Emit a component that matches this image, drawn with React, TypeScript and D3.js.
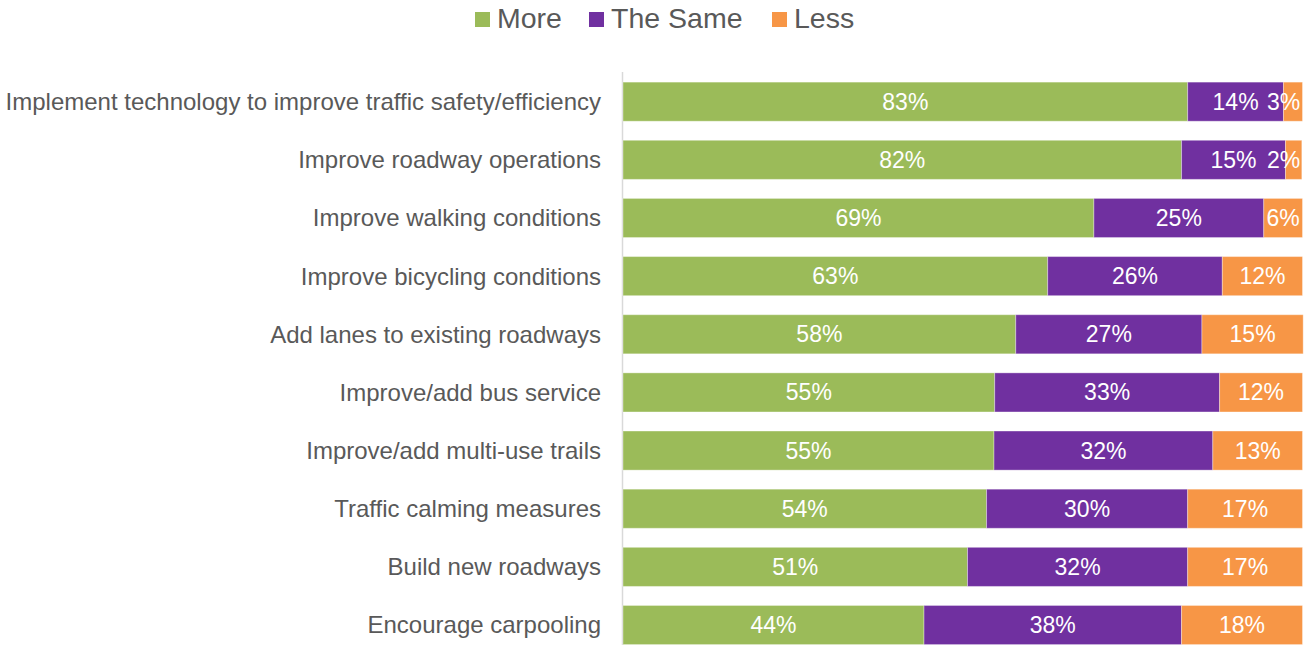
import React from "react";
import * as d3 from "d3";

const categories = [
  "Implement technology to improve traffic safety/efficiency",
  "Improve roadway operations",
  "Improve walking conditions",
  "Improve bicycling conditions",
  "Add lanes to existing roadways",
  "Improve/add bus service",
  "Improve/add multi-use trails",
  "Traffic calming measures",
  "Build new roadways",
  "Encourage carpooling",
];
const more = [83.1, 82.2, 69.3, 62.5, 57.8, 54.7, 54.6, 53.5, 50.7, 44.3];
const same = [14.1, 15.3, 25.0, 25.7, 27.4, 33.1, 32.2, 29.6, 32.4, 37.9];
const less = [2.8, 2.4, 5.7, 11.8, 14.9, 12.2, 13.2, 16.9, 16.9, 17.8];
const seriesNames = ["More", "The Same", "Less"];
const colors = ["#9BBB59", "#7030A0", "#F79646"];

const W = 1312;
const H = 645;
const FONT = "'Liberation Sans', Arial, sans-serif";

export default function App() {
  const x = d3.scaleLinear().domain([0, 100]).range([623, 1302.5]);
  const step = 58.15;
  const y = d3
    .scaleBand<string>()
    .domain(categories)
    .range([72.6, 72.6 + step * categories.length])
    .paddingInner(19 / 58)
    .paddingOuter(19 / 116);

  const rows = categories.map((c, i) => ({ cat: c, vals: [more[i], same[i], less[i]] }));
  const legendX = [475, 589, 772];
  const labelMax = x(100) - 19;

  return (
    <svg
      width={W}
      height={H}
      style={{ position: "absolute", left: 0, top: 0, display: "block" }}
      fontFamily={FONT}
    >
      <rect width={W} height={H} fill="#fff" />
      {seriesNames.map((s, i) => (
        <g key={s}>
          <rect x={legendX[i]} y={12} width={15} height={15} fill={colors[i]} />
          <text x={legendX[i] + 22} y={28} fontSize={28.5} fill="#595959">
            {s}
          </text>
        </g>
      ))}
      <line x1={622.5} x2={622.5} y1={72} y2={H} stroke="#D9D9D9" strokeWidth={1.5} />
      {rows.map((r) => {
        let acc = 0;
        const yy = y(r.cat)!;
        const bw = y.bandwidth();
        return (
          <g key={r.cat}>
            <text
              x={601}
              y={yy + bw / 2}
              dy="0.35em"
              textAnchor="end"
              fontSize={24}
              fill="#595959"
            >
              {r.cat}
            </text>
            {r.vals.map((v, j) => {
              const x0 = x(acc);
              acc += v;
              const x1 = x(acc);
              const cx = Math.min((x0 + x1) / 2, labelMax);
              return (
                <g key={j}>
                  <rect
                    x={x0}
                    y={yy}
                    width={x1 - x0}
                    height={bw}
                    fill={colors[j]}
                    stroke="#fff"
                    strokeOpacity={0.35}
                    strokeWidth={1}
                  />
                  <text
                    x={cx}
                    y={yy + bw / 2}
                    dy="0.35em"
                    textAnchor="middle"
                    fontSize={23}
                    fill="#fff"
                  >
                    {Math.round(v)}%
                  </text>
                </g>
              );
            })}
          </g>
        );
      })}
    </svg>
  );
}
